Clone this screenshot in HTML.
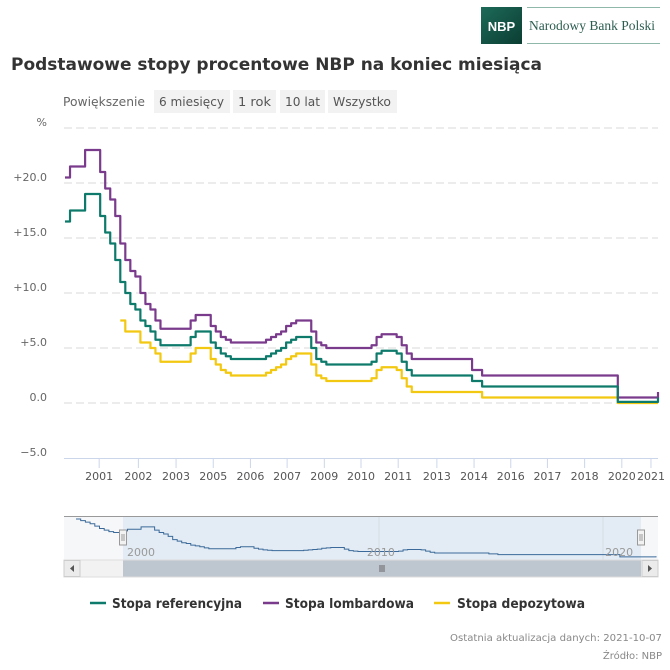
<!DOCTYPE html>
<html><head><meta charset="utf-8">
<style>
body{margin:0;background:#fff;width:670px;height:670px;overflow:hidden;font-family:"Liberation Sans","DejaVu Sans",sans-serif;}
svg{display:block}
</style></head>
<body>
<svg id="chart" width="670" height="670" viewBox="0 0 670 670">
  <g>
    <defs><linearGradient id="lg" x1="0" y1="0" x2="1" y2="1"><stop offset="0" stop-color="#1d6a58"/><stop offset="1" stop-color="#0b3d33"/></linearGradient></defs>
    <rect x="481" y="7" width="41" height="37" fill="url(#lg)"/>
    <text x="501.5" y="31" text-anchor="middle" font-family="Liberation Sans, sans-serif" font-weight="bold" font-size="13" fill="#fff">NBP</text>
    <line x1="527" y1="7.5" x2="660" y2="7.5" stroke="#8fb8ab" stroke-width="1"/>
    <line x1="527" y1="43.5" x2="660" y2="43.5" stroke="#8fb8ab" stroke-width="1"/>
    <text x="529" y="30" font-family="Liberation Serif, serif" font-size="13.5" fill="#2c5d50">Narodowy Bank Polski</text>
  </g>
  <text x="11" y="70" font-family="DejaVu Sans, sans-serif" font-weight="bold" font-size="17" fill="#333" textLength="531" lengthAdjust="spacingAndGlyphs">Podstawowe stopy procentowe NBP na koniec miesiąca</text>
  <g font-family="DejaVu Sans, sans-serif" font-size="12" fill="#555">
    <text x="63" y="106" textLength="82" lengthAdjust="spacingAndGlyphs" fill="#666">Powiększenie</text>
    <g><rect x="154" y="90" width="76" height="23" fill="#f2f2f2"/><text x="159" y="106" textLength="65" lengthAdjust="spacingAndGlyphs">6 miesięcy</text></g>
    <g><rect x="233" y="90" width="43" height="23" fill="#f2f2f2"/><text x="238" y="106" textLength="33" lengthAdjust="spacingAndGlyphs">1 rok</text></g>
    <g><rect x="280" y="90" width="45" height="23" fill="#f2f2f2"/><text x="285" y="106" textLength="35" lengthAdjust="spacingAndGlyphs">10 lat</text></g>
    <g><rect x="328" y="90" width="69" height="23" fill="#f2f2f2"/><text x="333" y="106" textLength="58" lengthAdjust="spacingAndGlyphs">Wszystko</text></g>
  </g>
  <g id="grid"></g>
  <g id="series"></g>
  <g id="xaxis"></g>
  <g id="nav"></g>
  <g font-family="DejaVu Sans, sans-serif" font-weight="bold" font-size="13" fill="#333">
    <g><line x1="90" y1="603" x2="106" y2="603" stroke="#0d7a6b" stroke-width="2.5"/><text x="112" y="608" textLength="130" lengthAdjust="spacingAndGlyphs">Stopa referencyjna</text></g>
    <g><line x1="263" y1="603" x2="279" y2="603" stroke="#7a3b8c" stroke-width="2.5"/><text x="285" y="608" textLength="129" lengthAdjust="spacingAndGlyphs">Stopa lombardowa</text></g>
    <g><line x1="434" y1="603" x2="450" y2="603" stroke="#f2c811" stroke-width="2.5"/><text x="457" y="608" textLength="128" lengthAdjust="spacingAndGlyphs">Stopa depozytowa</text></g>
  </g>
  <text x="662" y="641" text-anchor="end" font-family="DejaVu Sans, sans-serif" font-size="10" fill="#888" textLength="212" lengthAdjust="spacingAndGlyphs">Ostatnia aktualizacja danych: 2021-10-07</text>
  <text x="662" y="659" text-anchor="end" font-family="DejaVu Sans, sans-serif" font-size="10" fill="#888">Źródło: NBP</text>
</svg>
<script>
const refRate=[16.5,17.5,17.5,17.5,19,19,19,17,15.5,14.5,13,11,10,9,8.5,7.5,7,6.5,5.75,5.25,5.25,5.25,5.25,5.25,5.25,6,6.5,6.5,6.5,5.5,5,4.5,4.25,4,4,4,4,4,4,4,4.25,4.5,4.75,5,5.5,5.75,6,6,6,5,4,3.75,3.5,3.5,3.5,3.5,3.5,3.5,3.5,3.5,3.5,3.75,4.5,4.75,4.75,4.75,4.5,3.75,3,2.5,2.5,2.5,2.5,2.5,2.5,2.5,2.5,2.5,2.5,2.5,2.5,2,2,1.5,1.5,1.5,1.5,1.5,1.5,1.5,1.5,1.5,1.5,1.5,1.5,1.5,1.5,1.5,1.5,1.5,1.5,1.5,1.5,1.5,1.5,1.5,1.5,1.5,1.5,1.5,0.1,0.1,0.1,0.1,0.1,0.1,0.1,0.1,0.5];
const lombardRate=[20.5,21.5,21.5,21.5,23,23,23,21,19.5,18.5,17,14.5,13,12,11.5,10,9,8.5,7.5,6.75,6.75,6.75,6.75,6.75,6.75,7.5,8,8,8,7,6.5,6,5.75,5.5,5.5,5.5,5.5,5.5,5.5,5.5,5.75,6,6.25,6.5,7,7.25,7.5,7.5,7.5,6.5,5.5,5.25,5,5,5,5,5,5,5,5,5,5.25,6,6.25,6.25,6.25,6,5.25,4.5,4,4,4,4,4,4,4,4,4,4,4,4,3,3,2.5,2.5,2.5,2.5,2.5,2.5,2.5,2.5,2.5,2.5,2.5,2.5,2.5,2.5,2.5,2.5,2.5,2.5,2.5,2.5,2.5,2.5,2.5,2.5,2.5,2.5,2.5,0.5,0.5,0.5,0.5,0.5,0.5,0.5,0.5,1];
const depositRate=[null,null,null,null,null,null,null,null,null,null,null,7.5,6.5,6.5,6.5,5.5,5.5,5,4.5,3.75,3.75,3.75,3.75,3.75,3.75,4.5,5,5,5,4,3.5,3,2.75,2.5,2.5,2.5,2.5,2.5,2.5,2.5,2.75,3,3.25,3.5,4,4.25,4.5,4.5,4.5,3.5,2.5,2.25,2,2,2,2,2,2,2,2,2,2.25,3,3.25,3.25,3.25,3,2.25,1.5,1,1,1,1,1,1,1,1,1,1,1,1,1,1,0.5,0.5,0.5,0.5,0.5,0.5,0.5,0.5,0.5,0.5,0.5,0.5,0.5,0.5,0.5,0.5,0.5,0.5,0.5,0.5,0.5,0.5,0.5,0.5,0.5,0.5,0.5,0,0,0,0,0,0,0,0,0];
const navPrefix=[24,23,22,21,19.5,18,17,16,15.5,15.5];
const yTicks=[-5,0,5,10,15,20,25];
const xTickLabels=["2001","2002","2003","2005","2006","2007","2009","2010","2011","2013","2014","2016","2017","2018","2020","2021"];
const xTickIndex=[6.8,14.6,22.1,29.5,36.9,44.2,51.6,58.9,66.3,74,81.4,88.7,96,103.4,110.8,116.6];
const navLabels=["2000","2010","2020"];
const navLabelFrac=[0,0.463,0.923];

const NS="http://www.w3.org/2000/svg";
function mk(tag,attrs,parent){const e=document.createElementNS(NS,tag);for(const k in attrs)e.setAttribute(k,attrs[k]);parent.appendChild(e);return e;}
const X0=65,X1=658,Y0=403,PPU=11;
const n=refRate.length;
function xs(i){return X0+i*(X1-X0)/(n-1);}
function ys(v){return Y0-v*PPU;}

const grid=document.getElementById('grid');
yTicks.forEach(v=>{
  if(v>-5){
    const l=mk('line',{x1:64,x2:658,y1:ys(v),y2:ys(v),stroke:'#d8d8d8','stroke-width':1,'stroke-dasharray':'8,4'},grid);
    
    
  }
  const t=mk('text',{x:47,y:ys(v)-2,'text-anchor':'end','font-family':'DejaVu Sans, sans-serif','font-size':'11',fill:'#666'},grid);
  t.textContent=v===25?'%':(v>0?'+':'')+v.toFixed(1).replace('-','−');
  
  
});

function stepPath(arr){
  let d='',pen=false;
  arr.forEach((v,i)=>{
    if(v===null){pen=false;return;}
    const x=xs(i),y=ys(v);
    if(!pen){d+='M'+x+' '+y;pen=true;}
    else d+='H'+x+'V'+y;
  });
  return d;
}
const ser=document.getElementById('series');
[[depositRate,'#f2c811','series-deposit'],[lombardRate,'#7a3b8c','series-lombard'],[refRate,'#0d7a6b','series-reference']].forEach(s=>{
  const p=mk('path',{d:stepPath(s[0]),fill:'none',stroke:s[1],'stroke-width':2.2,'stroke-linejoin':'round'},ser);
  
  
});

const xa=document.getElementById('xaxis');
const al=mk('line',{x1:64,x2:658,y1:458.5,y2:458.5,stroke:'#ccd6eb','stroke-width':1},xa);


xTickLabels.forEach((lab,k)=>{
  const x=xs(xTickIndex[k]);
  mk('line',{x1:x,x2:x,y1:458,y2:468,stroke:'#ccd6eb'},xa);
  const t=mk('text',{x:x,y:480,'text-anchor':'middle','font-family':'DejaVu Sans, sans-serif','font-size':'11',fill:'#555'},xa);
  t.textContent=lab;
  
  
});

const nav=document.getElementById('nav');
const NT=516,NB=560,NL=64,NR=658,SL=123,SR=641;
const bg=mk('rect',{x:NL,y:NT,width:NR-NL,height:NB-NT,fill:'#f6f7f9'},nav);


const selR=mk('rect',{x:SL,y:NT,width:SR-SL,height:NB-NT,fill:'#e3ecf4'},nav);


[SL,(SL+SR)/2-3,SR-38].forEach((gx,i)=>{ if(i>0) mk('line',{x1:gx,x2:gx,y1:NT,y2:NB,stroke:'#d4dce4'},nav);});
mk('line',{x1:NL,x2:NR,y1:NT+0.5,y2:NT+0.5,stroke:'#999'},nav);
function nys(v){return NB-3-v*(NB-NT-6)/24;}
let nd='';
const pre=navPrefix.length;
navPrefix.forEach((v,i)=>{const x=76+i*(SL-76)/pre;nd+=(i?'H'+x+'V':'M'+x+' ')+nys(v);});
refRate.forEach((v,i)=>{const x=SL+i*(SR+15-SL)/(n-1);nd+='H'+x+'V'+nys(v);});
const np=mk('path',{d:nd,fill:'none',stroke:'#3b6a9a','stroke-width':1},nav);


navLabels.forEach((lab,k)=>{
  const t=mk('text',{x:SL+4+navLabelFrac[k]*(SR-SL),y:556,'font-family':'DejaVu Sans, sans-serif','font-size':'11',fill:'#999'},nav);
  t.textContent=lab;
  
  
});
[SL,SR].forEach((hx,k)=>{
  const h=mk('rect',{x:hx-3.5,y:530,width:7,height:15,fill:'#f2f2f2',stroke:'#999'},nav);
  
  
  mk('line',{x1:hx-1,x2:hx-1,y1:534,y2:541,stroke:'#999'},nav);
  mk('line',{x1:hx+1,x2:hx+1,y1:534,y2:541,stroke:'#999'},nav);
});
const track=mk('rect',{x:NL,y:560,width:NR-NL,height:17,fill:'#f2f2f2',stroke:'#ddd'},nav);


const thumb=mk('rect',{x:SL,y:560.5,width:SR-SL,height:16,fill:'#bec6cf'},nav);


[0,2,4].forEach(o=>mk('line',{x1:(SL+SR)/2-2+o,x2:(SL+SR)/2-2+o,y1:565,y2:572,stroke:'#666'},nav));
const bl=mk('rect',{x:NL,y:560.5,width:16,height:16,fill:'#ebebeb',stroke:'#ccc'},nav);


mk('path',{d:'M74 565 L70 568.5 L74 572 Z',fill:'#555'},nav);
const br=mk('rect',{x:NR-16,y:560.5,width:16,height:16,fill:'#ebebeb',stroke:'#ccc'},nav);


mk('path',{d:'M648 565 L652 568.5 L648 572 Z',fill:'#555'},nav);
</script>
</body></html>
